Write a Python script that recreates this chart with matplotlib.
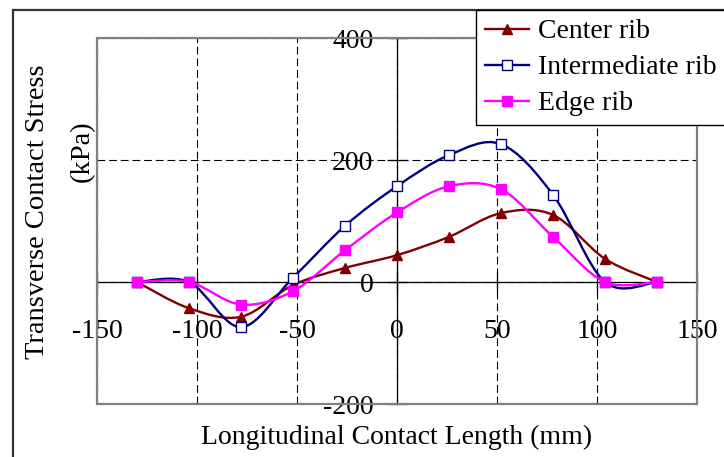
"""
Transverse contact stress along the contact length for three tyre ribs.
Excel-style smoothed lines, drawn as cubic Bezier paths.
"""

import numpy as np
import matplotlib
matplotlib.use("Agg")
import matplotlib.pyplot as plt
from matplotlib.path import Path
from matplotlib.patches import PathPatch, Rectangle
from matplotlib.lines import Line2D

plt.rcParams["font.family"] = ["Liberation Serif", "DejaVu Serif"]
plt.rcParams["axes.unicode_minus"] = False

# ── Data ────────────────────────────────────────────────────────────────────────
x_mm = [-130, -104, -78, -52, -26, 0, 26, 52, 78, 104, 130]
center_rib = [0, -43, -57, -5, 23, 44, 74, 113, 110, 38, 0]
intermediate_rib = [0, 0, -74, 7, 92, 157, 208, 226, 143, 0, 0]
edge_rib = [0, 0, -37, -15, 52, 114, 157, 152, 74, 0, 0]

x_ticks = [-150, -100, -50, 0, 50, 100, 150]
y_ticks = [-200, 0, 200, 400]

FS = 20


def smooth_path(xs, ys):
    """Excel-like smoothed line: Catmull-Rom tangents as Bezier controls."""
    p = np.column_stack([xs, ys]).astype(float)
    n = len(p)
    verts = [p[0]]
    codes = [Path.MOVETO]
    for i in range(n - 1):
        p_prev = p[max(i - 1, 0)]
        p_next = p[min(i + 2, n - 1)]
        c1 = p[i] + (p[i + 1] - p_prev) / 6.0
        c2 = p[i + 1] - (p_next - p[i]) / 6.0
        verts += [c1, c2, p[i + 1]]
        codes += [Path.CURVE4] * 3
    return Path(verts, codes)


fig = plt.figure(figsize=(7.24, 4.57), dpi=100)
fig.patch.set_facecolor("white")
ax = fig.add_axes([97 / 724, 1 - 404 / 457, 600 / 724, 366 / 457])

series = [
    ("Center rib", center_rib, "#800000", "^", "#800000"),
    ("Intermediate rib", intermediate_rib, "#000080", "s", "white"),
    ("Edge rib", edge_rib, "#FF00FF", "s", "#FF00FF"),
]

handles = []
for label, ys, col, mk, face in series:
    ax.add_patch(PathPatch(smooth_path(x_mm, ys), facecolor="none",
                           edgecolor=col, lw=1.7, zorder=4))
    ms = 7.5 if mk == "^" else 6.8
    ax.plot(x_mm, ys, ls="none", marker=mk, ms=ms, mfc=face, mec=col,
            mew=1.0, zorder=5)
    handles.append(Line2D([], [], color=col, lw=1.7, marker=mk, ms=ms,
                          mfc=face, mec=col, mew=1.0, label=label))

ax.set_xlim(-150, 150)
ax.set_ylim(-200, 400)
ax.set_xticks(x_ticks)
ax.set_yticks(y_ticks)

# axes through the origin, grey frame around the plot area
for side in ["top", "right"]:
    ax.spines[side].set_visible(False)
ax.spines["left"].set_position(("data", 0))
ax.spines["bottom"].set_position(("data", 0))
for side in ["left", "bottom"]:
    ax.spines[side].set_color("black")
    ax.spines[side].set_linewidth(0.9)
ax.add_patch(Rectangle((0, 0), 1, 1, transform=ax.transAxes, fill=False,
                       edgecolor="#808080", lw=1.6, zorder=6, clip_on=False))

ax.grid(True, color="black", lw=0.8, ls=(0, (7, 3.5)), zorder=1)
ax.set_axisbelow(True)

ax.tick_params(axis="both", direction="inout", length=14, width=0.9,
               colors="black", labelsize=FS)
ax.tick_params(axis="y", pad=10)
ax.tick_params(axis="x", pad=20)

# y title: second line sits beside the upper part of the first, as in the source
fig.text(38 / 724, 1 - 212 / 457, "Transverse Contact Stress",
         rotation=90, ha="center", va="center", fontsize=20.5)
fig.text(82 / 724, 1 - 151 / 457, "(kPa)",
         rotation=90, ha="center", va="center", fontsize=20.5)
fig.text(397 / 724, 1 - 437 / 457, "Longitudinal Contact Length (mm)",
         ha="center", va="center", fontsize=FS)

leg = fig.legend(handles=handles, loc="upper left",
                 bbox_to_anchor=(476 / 724, 1 - 10 / 457),
                 bbox_transform=fig.transFigure, fontsize=FS,
                 frameon=True, fancybox=False, framealpha=1,
                 edgecolor="black", borderpad=0.32, borderaxespad=0,
                 handlelength=1.6, handletextpad=0.3, labelspacing=0.38)
leg.get_frame().set_linewidth(1.0)

# page border (left and top only, the rest is cropped)
fig.add_artist(Line2D([13 / 724, 13 / 724], [0, 1 - 10 / 457],
                      transform=fig.transFigure, color="#333333", lw=1.6))
fig.add_artist(Line2D([13 / 724, 1], [1 - 10 / 457, 1 - 10 / 457],
                      transform=fig.transFigure, color="#333333", lw=1.6))

fig.savefig("out.png", dpi=100, facecolor="white")
